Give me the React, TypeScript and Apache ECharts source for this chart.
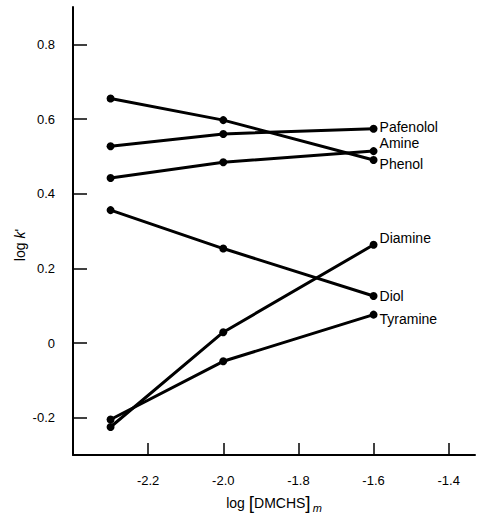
import React, { useEffect, useRef } from "react";
import * as echarts from "echarts";

const xValues = [-2.3, -2.0, -1.6];
const seriesNames = ["Pafenolol", "Amine", "Phenol", "Diamine", "Diol", "Tyramine"];
const pafenolol = [0.527, 0.56, 0.574];
const amine = [0.442, 0.484, 0.514];
const phenol = [0.655, 0.597, 0.49];
const diamine = [-0.225, 0.029, 0.263];
const diol = [0.356, 0.253, 0.126];
const tyramine = [-0.205, -0.049, 0.076];
const seriesValues = [pafenolol, amine, phenol, diamine, diol, tyramine];
const yTicks = [-0.2, 0, 0.2, 0.4, 0.6, 0.8];
const yTickLabels = ["-0.2", "0", "0.2", "0.4", "0.6", "0.8"];
const xTicks = [-2.2, -2.0, -1.8, -1.6, -1.4];
const xTickLabels = ["-2.2", "-2.0", "-1.8", "-1.6", "-1.4"];

const labelOffsets: number[][] = [
  [0, -2],
  [0, -8],
  [0, 4],
  [0, -7],
  [0, 0],
  [0, 4],
];

const FONT = "Liberation Sans";

export default function App() {
  const ref = useRef<HTMLDivElement>(null);
  useEffect(() => {
    if (!ref.current) return;
    const chart = echarts.init(ref.current, undefined, { renderer: "svg" });
    const pick = (ticks: number[], labels: string[], v: number) => {
      const i = ticks.findIndex((t) => Math.abs(t - v) < 1e-6);
      return i >= 0 ? labels[i] : "";
    };
    chart.setOption({
      animation: false,
      backgroundColor: "#ffffff",
      grid: { left: 73, right: 3, top: 7, bottom: 54 },
      xAxis: {
        type: "value",
        min: -2.4,
        max: -1.33,
        axisLine: { onZero: false, lineStyle: { color: "#000", width: 2 } },
        axisTick: { inside: true, length: 12, customValues: xTicks, lineStyle: { color: "#000", width: 1.5 } },
        axisLabel: {
          margin: 19,
          color: "#000",
          fontFamily: FONT,
          fontSize: 13,
          customValues: xTicks,
          formatter: (v: number) => pick(xTicks, xTickLabels, v),
        },
        splitLine: { show: false },
        name: "{a|log }{b|[}{a|DMCHS}{b|]}{c|m}",
        nameLocation: "middle",
        nameGap: 37,
        nameTextStyle: {
          rich: {
            a: { fontFamily: FONT, fontSize: 14, color: "#000" },
            b: { fontFamily: FONT, fontSize: 19, color: "#000" },
            c: { fontFamily: FONT, fontSize: 11, fontStyle: "italic", color: "#000", padding: [10, 0, 0, 2] },
          },
        },
      },
      yAxis: {
        type: "value",
        min: -0.3,
        max: 0.9,
        axisLine: { onZero: false, lineStyle: { color: "#000", width: 2 } },
        axisTick: { inside: true, length: 14, customValues: yTicks, lineStyle: { color: "#000", width: 1.5 } },
        axisLabel: {
          margin: 18,
          color: "#000",
          fontFamily: FONT,
          fontSize: 13,
          customValues: yTicks,
          formatter: (v: number) => pick(yTicks, yTickLabels, v),
        },
        splitLine: { show: false },
      },
      graphic: [
        {
          type: "text",
          x: 20,
          y: 245,
          rotation: Math.PI / 2,
          style: {
            text: "{a|log }{b|k}{a|'}",
            rich: {
              a: { fontFamily: FONT, fontSize: 14, fill: "#000" },
              b: { fontFamily: FONT, fontSize: 14, fontStyle: "italic", fill: "#000" },
            },
            align: "center",
            verticalAlign: "middle",
          },
        },
      ],
      series: seriesNames.map((name, i) => ({
        name,
        type: "line",
        data: xValues.map((x, j) => [x, seriesValues[i][j]]),
        symbol: "circle",
        symbolSize: 8,
        itemStyle: { color: "#000" },
        lineStyle: { color: "#000", width: 3 },
        endLabel: {
          show: true,
          formatter: name,
          color: "#000",
          fontFamily: FONT,
          fontSize: 14,
          distance: 6,
          offset: labelOffsets[i],
        },
      })),
    });
    return () => chart.dispose();
  }, []);
  return <div ref={ref} style={{ width: 478, height: 518, position: "absolute", left: 0, top: 0 }} />;
}
